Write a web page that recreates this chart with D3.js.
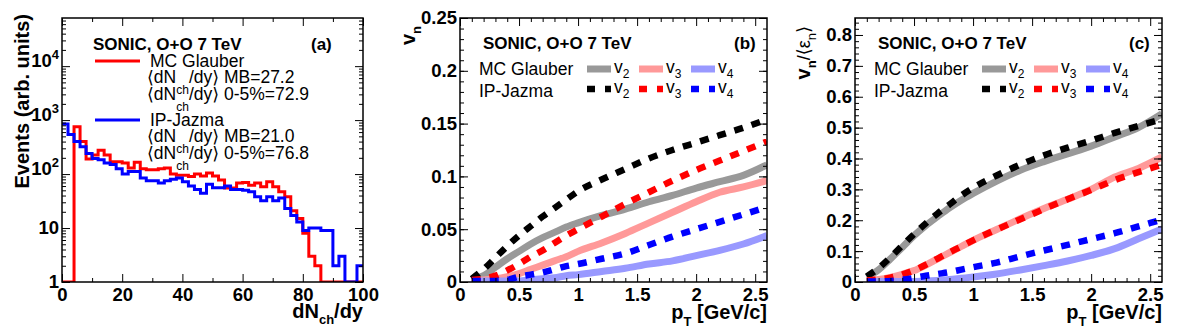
<!DOCTYPE html>
<html>
<head>
<meta charset="utf-8">
<script src="https://cdn.jsdelivr.net/npm/d3@7"></script>
<style>
body { margin: 0; background: #fff; }
svg text { font-family: "Liberation Sans", Arial, "DejaVu Sans", sans-serif; fill: #000; }
.axis text { font-size: 18.5px; font-weight: bold; }
.axis line { stroke: #000; stroke-width: 1; }
</style>
</head>
<body>
<div id="chart"></div>
<script>
// ---------- data ----------
// panel (a): dN_ch/dy histogram, bin edges 0..100 step 2
var dnEdges = [0,2,4,6,8,10,12,14,16,18,20,22,24,26,28,30,32,34,36,38,40,42,44,46,48,50,
               52,54,56,58,60,62,64,66,68,70,72,74,76,78,80,82,84,86,88,90,92,94,96,98,100];
var glauberCounts = [0,0,750,400,190,225,275,225,170,170,
                     160,130,165,125,120,120,125,130,100,95,
                     95,90,100,92,105,92,78,55,55,68,
                     70,62,68,58,72,58,47,38,21,15,
                     8,3,2,0,0,0,0,0,0,0];
var jazmaCounts = [850,540,400,320,240,195,185,160,150,125,
                   100,112,112,85,75,75,68,75,80,85,
                   72,60,52,44,65,56,56,60,52,52,
                   50,47,38,32,38,32,36,23,17,13,
                   9,10,10,9,9,2,3,0,0,2];
var aXTicks = [0,20,40,60,80,100];
var aYTicks = [1,10,100,1000,10000];

// panels (b) and (c): pT grid
var ptValues = [0.1,0.2,0.3,0.4,0.5,0.6,0.7,0.8,0.9,1.0,1.2,1.4,1.6,1.8,2.0,2.2,2.4,2.6];

// (b) v_n
var bV2Glauber = [0.003,0.006,0.014,0.022,0.029,0.036,0.042,0.047,0.052,0.056,0.063,0.069,0.076,0.082,0.089,0.095,0.101,0.111];
var bV3Glauber = [0.002,0.002,0.003,0.005,0.008,0.012,0.016,0.020,0.024,0.029,0.037,0.046,0.056,0.066,0.076,0.085,0.090,0.096];
var bV4Glauber = [0.001,0.001,0.001,0.001,0.001,0.002,0.003,0.004,0.006,0.007,0.010,0.013,0.017,0.020,0.025,0.030,0.036,0.044];
var bV2Jazma   = [0.003,0.012,0.023,0.034,0.044,0.053,0.062,0.070,0.078,0.086,0.097,0.107,0.117,0.125,0.132,0.139,0.146,0.154];
var bV3Jazma   = [0.002,0.003,0.006,0.011,0.017,0.024,0.030,0.037,0.044,0.050,0.062,0.074,0.085,0.096,0.106,0.115,0.124,0.133];
var bV4Jazma   = [0.001,0.001,0.001,0.002,0.005,0.007,0.009,0.012,0.015,0.017,0.022,0.027,0.035,0.043,0.050,0.057,0.064,0.071];

// (c) v_n / <eps_n>
var cV2Glauber = [0.015,0.040,0.075,0.112,0.150,0.183,0.212,0.240,0.265,0.287,0.327,0.362,0.390,0.415,0.440,0.470,0.500,0.545];
var cV3Glauber = [0.005,0.008,0.015,0.025,0.037,0.055,0.075,0.095,0.115,0.135,0.170,0.205,0.238,0.268,0.300,0.340,0.368,0.405];
var cV4Glauber = [0.002,0.002,0.002,0.002,0.002,0.003,0.005,0.008,0.012,0.016,0.026,0.039,0.053,0.068,0.086,0.108,0.140,0.172];
var cV2Jazma   = [0.018,0.045,0.080,0.118,0.155,0.190,0.222,0.251,0.280,0.305,0.345,0.380,0.410,0.435,0.458,0.483,0.505,0.528];
var cV3Jazma   = [0.005,0.008,0.014,0.024,0.038,0.056,0.076,0.096,0.115,0.135,0.170,0.203,0.236,0.268,0.298,0.330,0.356,0.380];
var cV4Jazma   = [0.002,0.002,0.003,0.007,0.013,0.020,0.026,0.032,0.040,0.048,0.063,0.083,0.102,0.120,0.139,0.158,0.180,0.202];

var ptTicks = [0,0.5,1,1.5,2,2.5];
var bYTicks = [0,0.05,0.1,0.15,0.2,0.25];
var cYTicks = [0,0.1,0.2,0.3,0.4,0.5,0.6,0.7,0.8];

// ---------- setup ----------
var svg = d3.select("#chart").append("svg")
    .attr("width", 1182)
    .attr("height", 336);

var fmt = function(d) { return String(+d.toFixed(2)); };

// rich text: parts = [{t, dy, size, weight}]
function rich(sel, parts, baseSize) {
    var shift = 0;
    parts.forEach(function(p) {
        var s = p.dy || 0;
        sel.append("tspan")
            .attr("dy", s - shift)
            .style("font-size", (p.size || baseSize) + "px")
            .style("font-weight", p.weight || null)
            .text(p.t);
        shift = s;
    });
    return sel;
}

function frame(x, y, xMaj, xMin, yMaj, yMin, xFmt, yFmt) {
    var x0 = x.range()[0], x1 = x.range()[1], y0 = y.range()[0], y1 = y.range()[1];
    var noDom = function(g) { g.select(".domain").remove(); };
    var add = function(tr, ax) {
        svg.append("g").attr("class", "axis").attr("transform", tr).call(ax).call(noDom);
    };
    add(`translate(0,${y0})`, d3.axisBottom(x).tickValues(xMin).tickSize(-4).tickFormat(""));
    add(`translate(0,${y0})`, d3.axisBottom(x).tickValues(xMaj).tickSize(-8).tickPadding(6).tickFormat(xFmt));
    add(`translate(0,${y1})`, d3.axisTop(x).tickValues(xMin).tickSize(-4).tickFormat(""));
    add(`translate(0,${y1})`, d3.axisTop(x).tickValues(xMaj).tickSize(-8).tickFormat(""));
    add(`translate(${x0},0)`, d3.axisLeft(y).tickValues(yMin).tickSize(-4).tickFormat(""));
    var left = svg.append("g").attr("class", "axis yleft").attr("transform", `translate(${x0},0)`)
        .call(d3.axisLeft(y).tickValues(yMaj).tickSize(-8).tickPadding(3).tickFormat(yFmt)).call(noDom);
    add(`translate(${x1},0)`, d3.axisRight(y).tickValues(yMin).tickSize(-4).tickFormat(""));
    add(`translate(${x1},0)`, d3.axisRight(y).tickValues(yMaj).tickSize(-8).tickFormat(""));
    svg.append("rect")
        .attr("x", x0).attr("y", y1)
        .attr("width", x1 - x0).attr("height", y0 - y1)
        .attr("fill", "none").attr("stroke", "#000").attr("stroke-width", 1.5);
    return left;
}

function clip(id, x, y) {
    svg.append("clipPath").attr("id", id).append("rect")
        .attr("x", x.range()[0]).attr("y", y.range()[1])
        .attr("width", x.range()[1] - x.range()[0])
        .attr("height", y.range()[0] - y.range()[1]);
}

// ---------- panel (a) ----------
var xA = d3.scaleLinear().domain([0, 100]).range([62, 363]);
var yA = d3.scaleLog().domain([1, 78000]).range([282, 18]);
clip("clipA", xA, yA);

var histLine = d3.line()
    .x(d => xA(d[0]))
    .y(d => yA(Math.max(d[1], 1)))
    .curve(d3.curveStepAfter);

function histPoints(counts) {
    var pts = counts.map((c, i) => [dnEdges[i], c]);
    pts.push([dnEdges[dnEdges.length - 1], counts[counts.length - 1]]);
    return pts;
}

var histG = svg.append("g").attr("clip-path", "url(#clipA)");
histG.append("path").datum(histPoints(glauberCounts))
    .attr("d", histLine).attr("fill", "none").attr("stroke", "#ff0000").attr("stroke-width", 3);
histG.append("path").datum(histPoints(jazmaCounts))
    .attr("d", histLine).attr("fill", "none").attr("stroke", "#0000ff").attr("stroke-width", 3);

var aMinorY = [];
aYTicks.forEach(function(dec) {
    d3.range(2, 10).forEach(function(m) { if (dec * m < 78000) aMinorY.push(dec * m); });
});
var aLeft = frame(xA, yA, aXTicks, d3.range(10, 100, 20), aYTicks, aMinorY, fmt, d => String(d));
aLeft.selectAll(".tick text").each(function(d) {
    if (d >= 100) {
        var t = d3.select(this).text("");
        rich(t, [{t: "10"}, {t: String(Math.round(Math.log10(d))), dy: -8, size: 13}], 18.5);
    }
});

svg.append("text").attr("transform", "translate(29,14) rotate(-90)")
    .attr("text-anchor", "end").style("font-size", "20px").style("font-weight", "bold")
    .text("Events (arb. units)");
rich(svg.append("text").attr("x", 363).attr("y", 318).attr("text-anchor", "end").style("font-weight", "bold"),
    [{t: "dN"}, {t: "ch", dy: 6, size: 13}, {t: "/dy"}], 20);

// legend (a)
svg.append("text").attr("x", 93).attr("y", 50).style("font-size", "17px").style("font-weight", "bold").text("SONIC, O+O 7 TeV");
svg.append("text").attr("x", 311).attr("y", 50).style("font-size", "17px").style("font-weight", "bold").text("(a)");
var legA = [
    {color: "#ff0000", name: "MC Glauber", mb: "27.2", cen: "72.9", y: 61},
    {color: "#0000ff", name: "IP-Jazma", mb: "21.0", cen: "76.8", y: 120}
];
legA.forEach(function(l) {
    svg.append("line").attr("x1", 95).attr("x2", 140).attr("y1", l.y).attr("y2", l.y)
        .attr("stroke", l.color).attr("stroke-width", 3);
    svg.append("text").attr("x", 150).attr("y", l.y + 6).style("font-size", "17.5px").text(l.name);
    rich(svg.append("text").attr("x", 147).attr("y", l.y + 22),
        [{t: "\u27E8dN"}, {t: "ch", dy: 11, size: 12}, {t: "/dy\u27E9 MB=" + l.mb}], 17.5);
    rich(svg.append("text").attr("x", 147).attr("y", l.y + 39),
        [{t: "\u27E8dN"}, {t: "ch", dy: 11, size: 12}, {t: "/dy\u27E9 0-5%=" + l.cen}], 17.5);
});

// ---------- panels (b), (c) ----------
function flowPanel(cfg) {
    var x = d3.scaleLinear().domain([0, 2.6]).range([cfg.left, cfg.left + 307]);
    var y = d3.scaleLinear().domain([0, cfg.ymax]).range([282, 18]);
    clip(cfg.id, x, y);
    var line = d3.line().x(d => x(d[0])).y(d => y(d[1])).curve(d3.curveMonotoneX);
    var g = svg.append("g").attr("clip-path", `url(#${cfg.id})`);
    cfg.series.forEach(function(s) {
        g.append("path").datum(ptValues.map((p, i) => [p, s.values[i]]))
            .attr("d", line).attr("fill", "none")
            .attr("stroke", s.color)
            .attr("stroke-width", s.dash ? 6.5 : 7)
            .attr("stroke-dasharray", s.dash ? "9,9" : null);
    });
    frame(x, y, ptTicks, d3.range(0.1, 2.6, 0.1).filter(v => Math.abs(v * 2 - Math.round(v * 2)) > 1e-6),
        cfg.yTicks, d3.range(0, cfg.ymax, cfg.yMinor), fmt, fmt);

    rich(svg.append("text").attr("x", x.range()[1]).attr("y", 319).attr("text-anchor", "end").style("font-weight", "bold"),
        [{t: "p"}, {t: "T", dy: 7, size: 13}, {t: " [GeV/c]"}], 20);
    rich(svg.append("text").attr("transform", `translate(${cfg.left - 45},26) rotate(-90)`)
        .attr("text-anchor", "end").style("font-weight", "bold"), cfg.yTitle, 20);

    var L = cfg.left;
    svg.append("text").attr("x", L + 23).attr("y", 49).style("font-size", "17px").style("font-weight", "bold").text("SONIC, O+O 7 TeV");
    svg.append("text").attr("x", L + 274).attr("y", 49).style("font-size", "17px").style("font-weight", "bold").text(cfg.tag);
    svg.append("text").attr("x", L + 19).attr("y", 75).style("font-size", "17.5px").text("MC Glauber");
    svg.append("text").attr("x", L + 19).attr("y", 97).style("font-size", "17.5px").text("IP-Jazma");
    cfg.series.forEach(function(s, i) {
        var col = i % 3, ly = i < 3 ? 69 : 89;
        var sx = L + 127 + col * 52;
        svg.append("line").attr("x1", sx).attr("x2", sx + 24).attr("y1", ly).attr("y2", ly)
            .attr("stroke", s.color).attr("stroke-width", s.dash ? 6.5 : 7)
            .attr("stroke-dasharray", s.dash ? "8,10" : null);
        rich(svg.append("text").attr("x", sx + 27).attr("y", ly + 4),
            [{t: "v"}, {t: s.n, dy: 5, size: 12}], 17.5);
    });
}

flowPanel({
    id: "clipB", left: 460, ymax: 0.25, yTicks: bYTicks, yMinor: 0.01, tag: "(b)",
    yTitle: [{t: "v"}, {t: "n", dy: 6, size: 13}],
    series: [
        {values: bV2Glauber, color: "#999999", n: "2"},
        {values: bV3Glauber, color: "#ff9999", n: "3"},
        {values: bV4Glauber, color: "#9999ff", n: "4"},
        {values: bV2Jazma, color: "#000000", n: "2", dash: true},
        {values: bV3Jazma, color: "#ff0000", n: "3", dash: true},
        {values: bV4Jazma, color: "#0000ff", n: "4", dash: true}
    ]
});

flowPanel({
    id: "clipC", left: 855, ymax: 0.855, yTicks: cYTicks, yMinor: 0.02, tag: "(c)",
    yTitle: [{t: "v"}, {t: "n", dy: 6, size: 13}, {t: "/\u27E8\u03B5", weight: "normal", size: 18}, {t: "n", dy: 6, size: 13, weight: "normal"}, {t: "\u27E9", weight: "normal", size: 18}],
    series: [
        {values: cV2Glauber, color: "#999999", n: "2"},
        {values: cV3Glauber, color: "#ff9999", n: "3"},
        {values: cV4Glauber, color: "#9999ff", n: "4"},
        {values: cV2Jazma, color: "#000000", n: "2", dash: true},
        {values: cV3Jazma, color: "#ff0000", n: "3", dash: true},
        {values: cV4Jazma, color: "#0000ff", n: "4", dash: true}
    ]
});
</script>
</body>
</html>
